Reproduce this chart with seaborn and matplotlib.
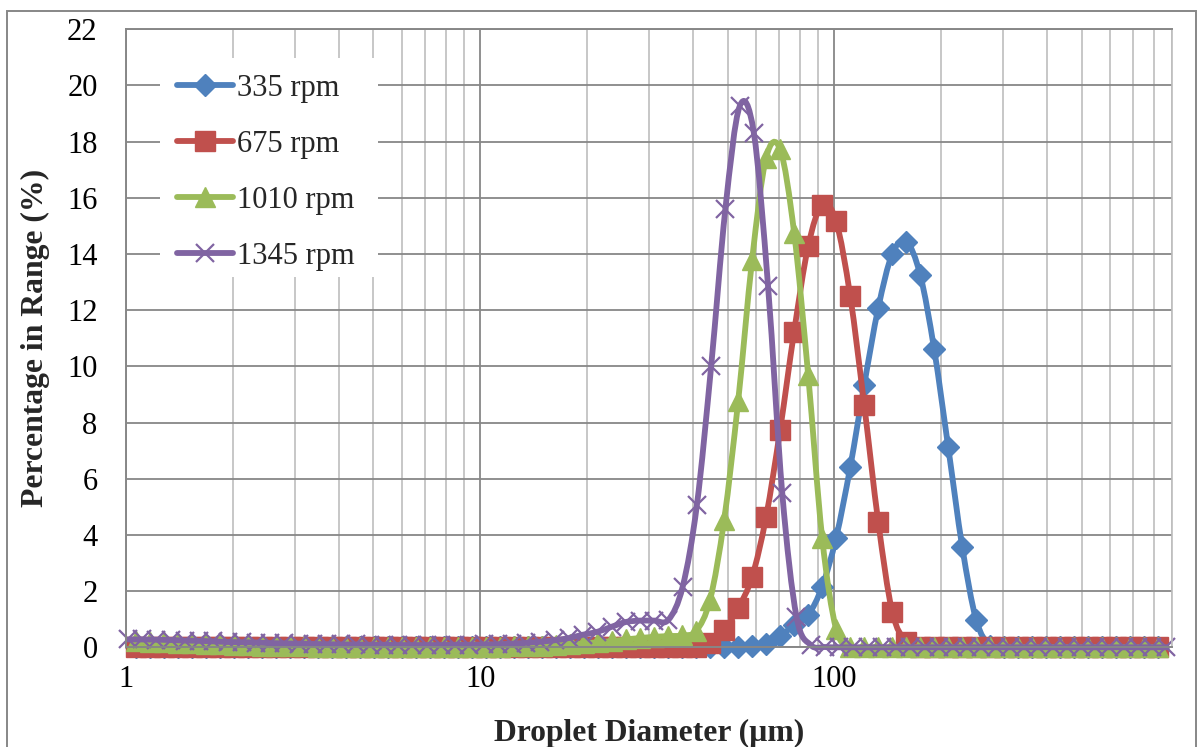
import matplotlib
matplotlib.use("Agg")
import matplotlib.pyplot as plt
from matplotlib.patches import Rectangle, PathPatch
from matplotlib.path import Path
from matplotlib.lines import Line2D
from matplotlib.ticker import LogLocator, NullFormatter
import numpy as np
import seaborn as sns
import pandas as pd

# Size classes (µm) used for the 335 / 675 / 1010 rpm runs
diameter_um = [
    1.067, 1.169, 1.280, 1.403, 1.536, 1.683, 1.843, 2.019, 2.211, 2.422,
    2.653, 2.906, 3.183, 3.486, 3.818, 4.182, 4.581, 5.018, 5.496, 6.020,
    6.594, 7.223, 7.911, 8.666, 9.493, 10.40, 11.39, 12.48, 13.67, 14.97,
    16.40, 17.96, 19.67, 21.54, 23.60, 25.85, 28.31, 31.01, 33.97, 37.21,
    40.75, 44.64, 48.90, 53.56, 58.67, 64.26, 70.39, 77.10, 84.45, 92.50,
    101.3, 111.0, 121.6, 133.2, 145.9, 159.8, 175.0, 191.7, 210.0, 230.0,
    251.9, 275.9, 302.2, 331.1, 362.6, 397.2, 435.1, 476.5, 521.9, 571.7,
    626.2, 685.9, 751.3, 822.9,
]

# Size classes (µm) used for the 1345 rpm run
diameter_1345_um = [
    1.013, 1.111, 1.219, 1.337, 1.467, 1.609, 1.765, 1.936, 2.123, 2.329,
    2.555, 2.803, 3.074, 3.372, 3.699, 4.057, 4.450, 4.882, 5.355, 5.874,
    6.443, 7.068, 7.752, 8.504, 9.327, 10.23, 11.22, 12.31, 13.50, 14.81,
    16.25, 17.82, 19.55, 21.44, 23.52, 25.80, 28.30, 31.04, 34.05, 37.35,
    40.97, 44.94, 49.30, 54.08, 59.32, 65.07, 71.37, 78.29, 85.88, 94.19,
    103.3, 113.3, 124.3, 136.3, 149.6, 164.1, 180.0, 197.4, 216.6, 237.5,
    260.6, 285.8, 313.5, 343.9, 377.2, 413.8, 453.9, 497.8, 546.1, 599.0,
    657.0, 720.7, 790.6, 867.2,
]

pct_335 = [
    0, 0, 0, 0, 0, 0, 0, 0, 0, 0,
    0, 0, 0, 0, 0, 0, 0, 0, 0, 0,
    0, 0, 0, 0, 0, 0, 0, 0, 0, 0,
    0, 0, 0, 0, 0, 0, 0, 0, 0, 0,
    0, 0, 0.00, 0.00, 0.03, 0.10, 0.40, 0.79, 1.15, 2.16,
    3.90, 6.40, 9.34, 12.07, 14.00, 14.44, 13.26, 10.60, 7.12, 3.58,
    0.97, 0.05, 0, 0, 0, 0, 0, 0, 0, 0,
    0, 0, 0, 0,
]

pct_675 = [
    0, 0, 0, 0, 0, 0, 0, 0, 0, 0,
    0, 0, 0, 0, 0, 0, 0, 0, 0, 0,
    0, 0, 0, 0, 0, 0, 0, 0, 0, 0,
    0, 0, 0, 0, 0, 0, 0, 0, 0, 0,
    0.02, 0.14, 0.62, 1.39, 2.51, 4.65, 7.74, 11.24, 14.27, 15.76,
    15.16, 12.51, 8.63, 4.47, 1.26, 0.20, 0, 0, 0, 0,
    0, 0, 0, 0, 0, 0, 0, 0, 0, 0,
    0, 0, 0, 0,
]

pct_1010 = [
    0.22, 0.20, 0.18, 0.16, 0.14, 0.12, 0.10, 0.08, 0.07, 0.06,
    0.05, 0.04, 0.03, 0.02, 0.02, 0.02, 0.02, 0.02, 0.02, 0.02,
    0.02, 0.02, 0.02, 0.02, 0.02, 0.02, 0.02, 0.03, 0.04, 0.05,
    0.07, 0.10, 0.14, 0.18, 0.22, 0.28, 0.33, 0.37, 0.40, 0.42,
    0.58, 1.70, 4.53, 8.75, 13.80, 17.42, 17.72, 14.75, 9.70, 3.90,
    0.65, 0.02, 0, 0, 0, 0, 0, 0, 0, 0,
    0, 0, 0, 0, 0, 0, 0, 0, 0, 0,
    0, 0, 0, 0,
]

pct_1345 = [
    0.28, 0.28, 0.27, 0.26, 0.24, 0.23, 0.21, 0.19, 0.18, 0.17,
    0.15, 0.14, 0.13, 0.12, 0.11, 0.10, 0.10, 0.09, 0.09, 0.08,
    0.08, 0.08, 0.08, 0.09, 0.09, 0.10, 0.11, 0.13, 0.16, 0.20,
    0.25, 0.33, 0.45, 0.55, 0.73, 0.90, 0.95, 0.95, 0.98, 2.16,
    5.07, 10.00, 15.60, 19.25, 18.31, 12.85, 5.48, 1.09, 0.08, 0.01,
    0, 0, 0, 0, 0, 0, 0, 0, 0, 0,
    0, 0, 0, 0, 0, 0, 0, 0, 0, 0,
    0, 0, 0, 0,
]

series_labels = ["335 rpm", "675 rpm", "1010 rpm", "1345 rpm"]
x_tick_values = [1, 10, 100]
x_tick_labels = ["1", "10", "100"]
y_tick_values = [0, 2, 4, 6, 8, 10, 12, 14, 16, 18, 20, 22]

sns.set_style("white")
plt.rcParams["font.family"] = ["Liberation Serif", "DejaVu Serif"]

GRID_DARK = "#878787"
GRID_LIGHT = "#BEBEBE"
FS = 22
FS_TITLE = 22.8
LW = 4.2


def smooth_path(xs, ys):
    """Spreadsheet-style smoothed line: cubic Bezier segments through every
    point, with Catmull-Rom tangents computed in (log10 x, y) space."""
    pts = np.column_stack([np.log10(xs), np.asarray(ys, dtype=float)])
    n = len(pts)
    verts = [pts[0]]
    codes = [Path.MOVETO]
    for i in range(n - 1):
        p0 = pts[i - 1] if i > 0 else pts[i]
        p1 = pts[i]
        p2 = pts[i + 1]
        p3 = pts[i + 2] if i + 2 < n else pts[i + 1]
        verts += [p1 + (p2 - p0) / 6.0, p2 - (p3 - p1) / 6.0, p2]
        codes += [Path.CURVE4] * 3
    verts = np.array(verts)
    verts[:, 0] = 10.0 ** verts[:, 0]
    return Path(verts, codes)


fig = plt.figure(figsize=(12.03, 7.47), dpi=100)
ax = fig.add_axes([0.10474, 0.13347, 0.86949, 0.82744])
ax.set_xscale("log")

runs = [
    (diameter_um, pct_335, series_labels[0], "#4F81BD", "D", 11.0, 1.0),
    (diameter_um, pct_675, series_labels[1], "#C0504D", "s", 15.0, 1.0),
    (diameter_um, pct_1010, series_labels[2], "#9BBB59", "^", 15.0, 1.0),
    (diameter_1345_um, pct_1345, series_labels[3], "#8064A2", "x", 13.5, 1.6),
]

legend_handles = []
for i, (xs, ys, lab, col, mk, ms, mew) in enumerate(runs):
    z = 2 + 0.1 * i
    ax.add_patch(PathPatch(smooth_path(xs, ys), facecolor="none", edgecolor=col,
                           linewidth=LW, capstyle="round", joinstyle="round",
                           zorder=z, clip_on=False))
    df = pd.DataFrame({"diameter": xs, "pct": ys})
    sns.lineplot(
        data=df, x="diameter", y="pct", ax=ax, estimator=None, sort=False,
        color=col, linestyle="none", marker=mk, markersize=ms,
        markeredgecolor=col, markerfacecolor=col, markeredgewidth=mew,
        legend=False, zorder=z + 0.05, clip_on=False,
    )
    legend_handles.append(Line2D([], [], color=col, linewidth=LW, marker=mk,
                                 markersize=ms, markeredgecolor=col,
                                 markerfacecolor=col, markeredgewidth=mew,
                                 solid_capstyle="round"))

ax.set_xlim(1, 900)
ax.set_ylim(0, 22)
ax.set_xticks(x_tick_values, labels=x_tick_labels)
ax.set_yticks(y_tick_values)
ax.xaxis.set_minor_locator(LogLocator(base=10, subs=range(2, 10), numticks=20))
ax.xaxis.set_minor_formatter(NullFormatter())

ax.set_axisbelow(True)
ax.grid(which="major", axis="both", color=GRID_DARK, linewidth=1.3)
ax.grid(which="minor", axis="x", color=GRID_LIGHT, linewidth=1.2)

ax.tick_params(axis="x", which="both", length=0, pad=13, labelsize=FS, colors="black")
ax.tick_params(axis="y", which="major", direction="out", length=6.5, width=1.4,
               color=GRID_DARK, pad=14, labelsize=FS, labelcolor="black")

for side in ["left", "bottom", "top"]:
    ax.spines[side].set_color(GRID_DARK)
    ax.spines[side].set_linewidth(1.4)
ax.spines["right"].set_color(GRID_LIGHT)
ax.spines["right"].set_linewidth(1.2)

ax.set_xlabel("Droplet Diameter (µm)", fontsize=FS_TITLE, fontweight="bold", va="center")
ax.xaxis.set_label_coords(0.5, -0.1387)
ax.set_ylabel("Percentage in Range (%)", fontsize=FS_TITLE, fontweight="bold", va="center")
ax.yaxis.set_label_coords(-0.0870, 0.5)

# white panel behind the legend, interrupting the grid
ax.add_patch(Rectangle((0.0325, 0.5997), 0.2084, 0.3537, transform=ax.transAxes,
                       facecolor="white", edgecolor="none", zorder=1))

ax.legend(legend_handles, series_labels, loc="upper left",
          bbox_to_anchor=(0.0488, 0.9275), frameon=False, fontsize=FS,
          handlelength=1.83, handletextpad=0.13, labelspacing=0.88,
          borderpad=0, borderaxespad=0, numpoints=1)

# chart area border
fig.add_artist(Rectangle((0.0058, -0.05), 0.9884, 0.9859 + 0.05,
                         transform=fig.transFigure, fill=False,
                         edgecolor=GRID_DARK, linewidth=1.4))

fig.savefig("out.png", dpi=100)
